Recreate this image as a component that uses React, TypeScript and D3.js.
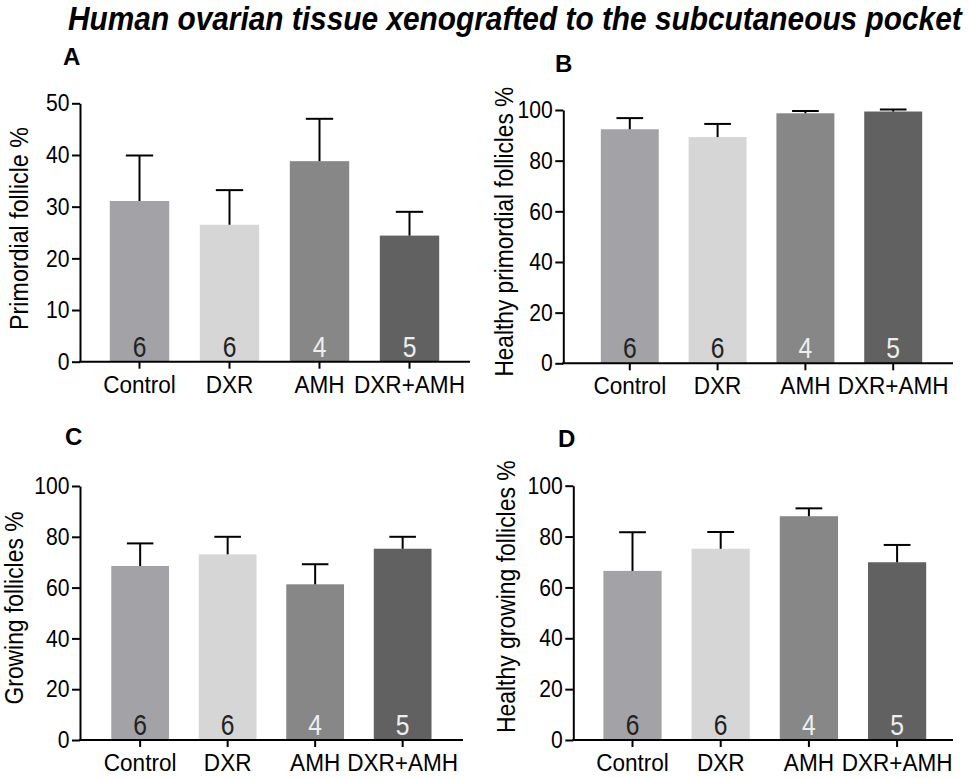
import React, { useEffect, useRef } from 'react';
import * as d3 from 'd3';

// groups and sample sizes (same in every panel)
const categories = ['Control', 'DXR', 'AMH', 'DXR+AMH'];
const sampleSizes = [6, 6, 4, 5];
const barColors = ['#a3a2a7', '#d6d6d6', '#878787', '#616161'];
const countColors = ['#222222', '#222222', '#eeeeee', '#eeeeee'];

// panel values: mean and SEM
const primordialMean = [31.1, 26.5, 38.8, 24.4];
const primordialSem = [8.8, 6.7, 8.2, 4.6];
const healthyPrimordialMean = [92.4, 89.3, 98.7, 99.4];
const healthyPrimordialSem = [4.4, 5.2, 0.9, 0.8];
const growingMean = [68.5, 73.1, 61.3, 75.3];
const growingSem = [8.9, 6.9, 7.9, 4.7];
const healthyGrowingMean = [66.5, 75.2, 88.0, 69.9];
const healthyGrowingSem = [15.2, 6.6, 3.1, 6.8];

const ticksPrimordial = [0, 10, 20, 30, 40, 50];
const ticksPercent = [0, 20, 40, 60, 80, 100];

const FONT = '"Liberation Sans", Arial, sans-serif';
const TITLE = 'Human ovarian tissue xenografted to the subcutaneous pocket';

// squeeze a text horizontally so it fills the given width
const fitWidth = (node: SVGTextElement | null, width: number, tx: number, ty: number, rotate = 0) => {
  if (!node) return;
  const w = node.getComputedTextLength();
  const s = w > 0 ? width / w : 1;
  node.setAttribute('transform', `translate(${tx},${ty}) rotate(${rotate}) scale(${s},1)`);
};

type Layout = {
  axisX: number; y0: number; yTop: number;
  bandStart: number; bandEnd: number; axisEnd: number;
  labelX: number; labelMid: number; labelLen: number;
  letterX: number; letterY: number;
};

type PanelProps = {
  letter: string; yLabel: string;
  mean: number[]; sem: number[];
  ticks: number[]; layout: Layout;
};

const Panel = ({ letter, yLabel, mean, sem, ticks, layout }: PanelProps) => {
  const gRef = useRef<SVGGElement>(null);

  useEffect(() => {
    const g = d3.select(gRef.current);
    g.selectAll('*').remove();
    const L = layout;

    const y = d3.scaleLinear()
      .domain([0, ticks[ticks.length - 1]])
      .range([L.y0, L.yTop]);
    const x = d3.scaleBand()
      .domain(categories)
      .range([L.bandStart, L.bandEnd])
      .paddingInner(0.34)
      .paddingOuter(0.17);
    const bw = x.bandwidth();

    // bars
    g.selectAll('rect.bar')
      .data(categories)
      .join('rect')
      .attr('class', 'bar')
      .attr('x', (d) => x(d)!)
      .attr('y', (d, i) => y(mean[i]))
      .attr('width', bw)
      .attr('height', (d, i) => L.y0 - y(mean[i]))
      .attr('fill', (d, i) => barColors[i]);

    // error bars (upper only)
    categories.forEach((c, i) => {
      const cx = x(c)! + bw / 2;
      g.append('line')
        .attr('x1', cx).attr('x2', cx)
        .attr('y1', y(mean[i])).attr('y2', y(mean[i] + sem[i]))
        .attr('stroke', '#000').attr('stroke-width', 2);
      g.append('line')
        .attr('x1', cx - bw * 0.23).attr('x2', cx + bw * 0.23)
        .attr('y1', y(mean[i] + sem[i])).attr('y2', y(mean[i] + sem[i]))
        .attr('stroke', '#000').attr('stroke-width', 2);
    });

    // n inside bars
    g.selectAll('text.n')
      .data(categories)
      .join('text')
      .attr('class', 'n')
      .attr('transform', (d) => `translate(${x(d)! + bw / 2},${L.y0 - 5}) scale(0.85,1)`)
      .attr('text-anchor', 'middle')
      .attr('font-family', FONT)
      .attr('font-size', 29)
      .attr('fill', (d, i) => countColors[i])
      .text((d, i) => sampleSizes[i]);

    // y axis
    const yAxis = g.append('g')
      .attr('transform', `translate(${L.axisX},0)`)
      .call(d3.axisLeft(y).tickValues(ticks).tickSize(8).tickSizeOuter(0).tickPadding(4));
    yAxis.selectAll('path, line').attr('stroke', '#000').attr('stroke-width', 2);
    yAxis.selectAll('text')
      .attr('font-family', FONT).attr('font-size', 24).attr('fill', '#000')
      .attr('transform', 'scale(0.88,1)');

    // x axis
    const xAxis = g.append('g')
      .attr('transform', `translate(0,${L.y0})`)
      .call(d3.axisBottom(x).tickSize(7).tickPadding(7));
    xAxis.select('.domain').remove();
    xAxis.selectAll('line').attr('stroke', '#000').attr('stroke-width', 2);
    xAxis.selectAll('text')
      .attr('font-family', FONT).attr('font-size', 24).attr('fill', '#000')
      .attr('transform', 'scale(0.94,1)');
    g.append('line')
      .attr('x1', L.axisX - 1).attr('x2', L.axisEnd)
      .attr('y1', L.y0).attr('y2', L.y0)
      .attr('stroke', '#000').attr('stroke-width', 2);

    // y label
    const lab = g.append('text')
      .attr('text-anchor', 'middle')
      .attr('font-family', FONT)
      .attr('font-size', 25)
      .text(yLabel);
    fitWidth(lab.node(), L.labelLen, L.labelX, L.labelMid, -90);

    // panel letter
    g.append('text')
      .attr('x', L.letterX)
      .attr('y', L.letterY)
      .attr('font-family', FONT)
      .attr('font-weight', 'bold')
      .attr('font-size', 24)
      .text(letter);
  }, [letter, yLabel, mean, sem, ticks, layout]);

  return <g ref={gRef} />;
};

const layoutA: Layout = {
  axisX: 80, y0: 361.7, yTop: 103.3, bandStart: 94.5, bandEnd: 454.5, axisEnd: 470,
  labelX: 28, labelMid: 228.5, labelLen: 203, letterX: 63, letterY: 65,
};
const layoutB: Layout = {
  axisX: 563.3, y0: 363.3, yTop: 110, bandStart: 585.9, bandEnd: 937.1, axisEnd: 953,
  labelX: 513, labelMid: 231.7, labelLen: 290, letterX: 555, letterY: 72,
};
const layoutC: Layout = {
  axisX: 80, y0: 740, yTop: 486, bandStart: 96.4, bandEnd: 446.4, axisEnd: 463,
  labelX: 23, labelMid: 608, labelLen: 193, letterX: 65, letterY: 445,
};
const layoutD: Layout = {
  axisX: 573.3, y0: 740, yTop: 485.7, bandStart: 588.4, bandEnd: 941.2, axisEnd: 953,
  labelX: 515, labelMid: 596.7, labelLen: 273, letterX: 558, letterY: 447,
};

const Title = () => {
  const ref = useRef<SVGTextElement>(null);
  useEffect(() => {
    fitWidth(ref.current, 894, 68, 30);
  }, []);
  return (
    <text ref={ref} fontFamily={FONT} fontWeight="bold" fontStyle="italic" fontSize={33}>
      {TITLE}
    </text>
  );
};

const App = () => (
  <svg width={969} height={778} style={{ position: 'absolute', left: 0, top: 0, background: '#fff' }}>
    <Title />
    <Panel letter="A" yLabel="Primordial follicle %" mean={primordialMean} sem={primordialSem}
      ticks={ticksPrimordial} layout={layoutA} />
    <Panel letter="B" yLabel="Healthy primordial follicles %" mean={healthyPrimordialMean}
      sem={healthyPrimordialSem} ticks={ticksPercent} layout={layoutB} />
    <Panel letter="C" yLabel="Growing follicles %" mean={growingMean} sem={growingSem}
      ticks={ticksPercent} layout={layoutC} />
    <Panel letter="D" yLabel="Healthy growing follicles %" mean={healthyGrowingMean}
      sem={healthyGrowingSem} ticks={ticksPercent} layout={layoutD} />
  </svg>
);

export default App;
